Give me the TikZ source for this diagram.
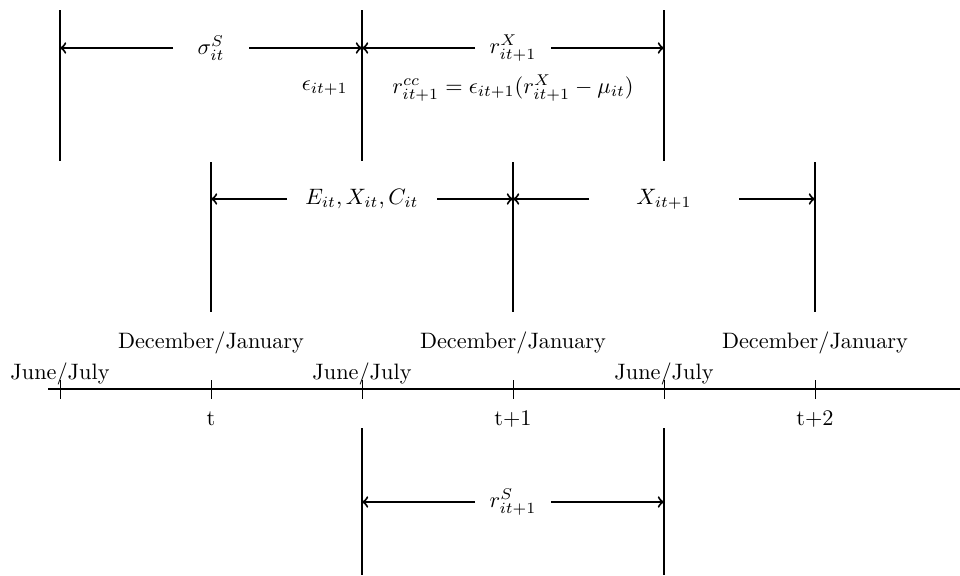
\documentclass[tikz,border=0pt]{standalone}
\begin{document}
\begin{tikzpicture}[x=0.4486pt,y=-0.4486pt,
  bar/.style={line width=0.9pt},
  span/.style={line width=0.9pt,->},
  tickmark/.style={line width=0.4pt},
  lbl/.style={inner sep=0pt,anchor=center}]
\useasboundingbox (0,0) rectangle (960,575);
% time axis
\coordinate (axL) at (48,389);
\coordinate (axR) at (960,389);
\draw[line width=0.9pt] (axL) -- (axR);
\foreach \x/\n in {60/a,211/b,362/c,513/d,664/e,815/f}{
  \coordinate (tk\n t) at (\x,380);
  \coordinate (tk\n b) at (\x,399);
  \draw[tickmark] (tk\n t) -- (tk\n b);
}
% axis labels
\foreach \x/\n in {60/a,362/b,664/c}
  \node[lbl] (jj\n) at (\x,374) {June/July};
\foreach \x/\n in {211/a,513/b,815/c}
  \node[lbl] (dj\n) at (\x,343) {December/January};
\node[lbl] (ta) at (211,419) {t};
\node[lbl] (tb) at (513,419) {t+1};
\node[lbl] (tc) at (815,419) {t+2};
% vertical bars
\foreach \x/\n in {60/a,362/b,664/c}{
  \coordinate (top\n1) at (\x,10);
  \coordinate (top\n2) at (\x,161);
  \draw[bar] (top\n1) -- (top\n2);
}
\foreach \x/\n in {211/a,513/b,815/c}{
  \coordinate (mid\n1) at (\x,162);
  \coordinate (mid\n2) at (\x,312);
  \draw[bar] (mid\n1) -- (mid\n2);
}
\foreach \x/\n in {362/a,664/b}{
  \coordinate (bot\n1) at (\x,428);
  \coordinate (bot\n2) at (\x,575);
  \draw[bar] (bot\n1) -- (bot\n2);
}
% top spans
\node[lbl] (sig) at (211,48) {$\sigma^S_{it}$};
\coordinate (s1) at (60,48);  \coordinate (s2) at (173,48);
\coordinate (s3) at (249,48); \coordinate (s4) at (362,48);
\draw[span] (s2) -- (s1);
\draw[span] (s3) -- (s4);
\node[lbl] (rx) at (513,48) {$r^X_{it+1}$};
\coordinate (r1) at (362,48); \coordinate (r2) at (475,48);
\coordinate (r3) at (551,48); \coordinate (r4) at (664,48);
\draw[span] (r2) -- (r1);
\draw[span] (r3) -- (r4);
\node[lbl,anchor=east] (eps) at (348,88) {$\epsilon_{it+1}$};
\node[lbl] (rcc) at (513,88) {$r^{cc}_{it+1}=\epsilon_{it+1}(r^X_{it+1}-\mu_{it})$};
% middle spans
\node[lbl] (exc) at (362,199) {$E_{it},X_{it},C_{it}$};
\coordinate (e1) at (211,199); \coordinate (e2) at (287,199);
\coordinate (e3) at (437,199); \coordinate (e4) at (513,199);
\draw[span] (e2) -- (e1);
\draw[span] (e3) -- (e4);
\node[lbl] (xn) at (664,199) {$X_{it+1}$};
\coordinate (x1) at (513,199); \coordinate (x2) at (589,199);
\coordinate (x3) at (739,199); \coordinate (x4) at (815,199);
\draw[span] (x2) -- (x1);
\draw[span] (x3) -- (x4);
% bottom span
\node[lbl] (rs) at (513,502) {$r^S_{it+1}$};
\coordinate (b1) at (362,502); \coordinate (b2) at (475,502);
\coordinate (b3) at (551,502); \coordinate (b4) at (664,502);
\draw[span] (b2) -- (b1);
\draw[span] (b3) -- (b4);
\end{tikzpicture}
\end{document}
